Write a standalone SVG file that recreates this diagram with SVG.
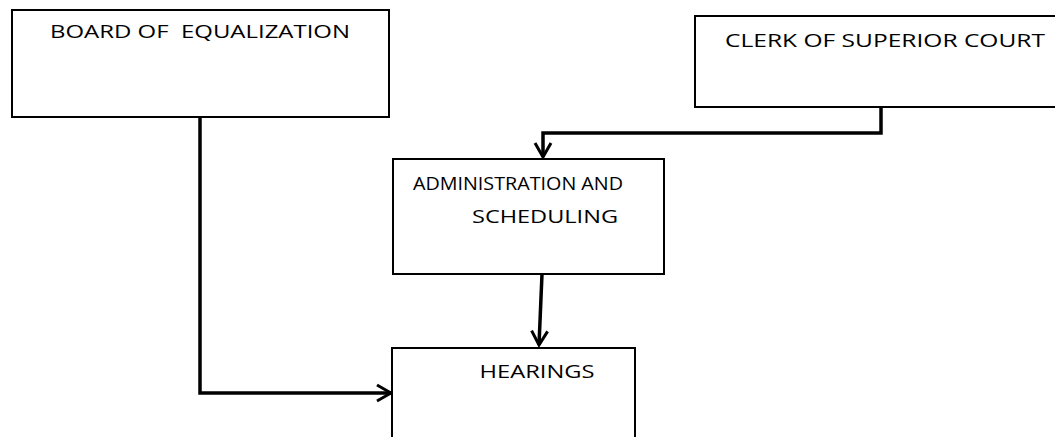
<svg xmlns="http://www.w3.org/2000/svg" width="1055" height="437" viewBox="0 0 1055 437">
<style>
.box{fill:#fff;stroke:#000;stroke-width:2}
.lbl{font-family:"Open Sans","Liberation Sans",sans-serif;font-size:19px;fill:#000;text-anchor:middle}
.conn{fill:none;stroke:#000;stroke-width:3.5}
</style>
<defs>
<marker id="arr" viewBox="0 0 20 20" refX="18" refY="10" markerWidth="20" markerHeight="20" markerUnits="userSpaceOnUse" orient="auto">
<path d="M4,2 L18,10 L4,18" fill="none" stroke="#000" stroke-width="3"/>
</marker>
</defs>
<rect width="1055" height="437" fill="#fff"/>
<g id="board">
<rect class="box" x="12" y="10" width="377" height="107"/>
<text class="lbl" x="200" y="38" textLength="300" lengthAdjust="spacingAndGlyphs" xml:space="preserve">BOARD OF  EQUALIZATION</text>
</g>
<g id="clerk">
<rect class="box" x="695" y="16" width="370" height="91"/>
<text class="lbl" x="885" y="47" textLength="320" lengthAdjust="spacingAndGlyphs">CLERK OF SUPERIOR COURT</text>
</g>
<g id="admin">
<rect class="box" x="393" y="159" width="271" height="115"/>
<text class="lbl" x="518" y="190" textLength="210" lengthAdjust="spacingAndGlyphs">ADMINISTRATION AND</text>
<text class="lbl" x="545" y="223" textLength="146" lengthAdjust="spacingAndGlyphs">SCHEDULING</text>
</g>
<g id="hearings">
<rect class="box" x="392" y="348" width="243" height="100"/>
<text class="lbl" x="537" y="378" textLength="115" lengthAdjust="spacingAndGlyphs">HEARINGS</text>
</g>
<g id="connectors">
<path class="conn" d="M881,107 L881,133 L543,133 L543,157" marker-end="url(#arr)"/>
<path class="conn" d="M542,274 L539,345" marker-end="url(#arr)"/>
<path class="conn" d="M200,117 L200,393 L391,393" marker-end="url(#arr)"/>
</g>
</svg>
